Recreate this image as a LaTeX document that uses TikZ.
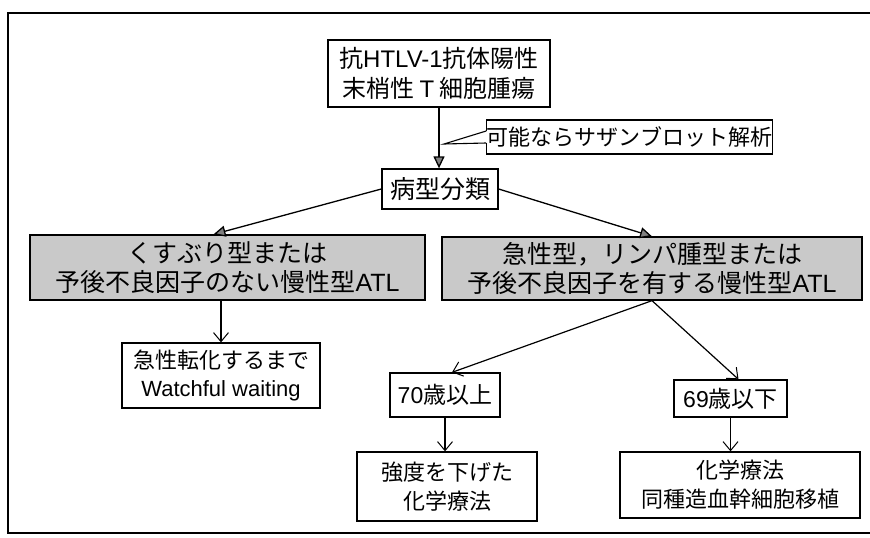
\documentclass[tikz,border=0pt]{standalone}
\usepackage{fontspec}
\setmainfont{Noto Sans CJK JP}
\newfontfamily\lat{Liberation Sans}
\usetikzlibrary{arrows.meta}
\begin{document}
\begin{tikzpicture}[x=1pt,y=-1pt,
 box/.style={draw,line width=1.3pt,inner sep=0pt,align=center,font=\fontsize{23}{29}\selectfont},
 shadebox/.style={box,fill=black!21},
 filledarrow/.style={-{Triangle[length=12pt,width=11pt,fill=black!50]}, line width=1.3pt},
 openarrow/.style={-{Straight Barb[length=9pt,width=15pt,line width=1pt]}, line width=1.2pt}]
\useasboundingbox (0,0) rectangle (870,538);
\clip (0,0) rectangle (870,538);
\draw[line width=1.2pt] (8,13) rectangle (900,533);

\node[box, minimum width=222pt, minimum height=67pt, font=\fontsize{24}{30}\selectfont] (top) at (439,73.5) {抗{\lat HTLV-1}抗体陽性\\末梢性 {\lat T} 細胞腫瘍};
\node[box, minimum width=285pt, minimum height=34pt, font=\fontsize{22}{26}\selectfont] (callout) at (629.5,137) {可能ならサザンブロット解析};
\node[box, minimum width=116pt, minimum height=40pt, font=\fontsize{25}{28}\selectfont] (bunrui) at (440,189) {病型分類};
\node[shadebox, minimum width=395pt, minimum height=65pt, font=\fontsize{25}{29}\selectfont] (lshade) at (227.5,267.5) {くすぶり型または\\予後不良因子のない慢性型{\lat ATL}};
\node[shadebox, minimum width=420pt, minimum height=63pt, font=\fontsize{25}{29}\selectfont] (rshade) at (652,268.5) {急性型，リンパ腫型または\\予後不良因子を有する慢性型{\lat ATL}};
\node[box, minimum width=198pt, minimum height=65pt, font=\fontsize{22}{28}\selectfont] (watch) at (221,375.5) {急性転化するまで\\{\lat Watchful waiting}};
\node[box, minimum width=110pt, minimum height=44pt, font=\fontsize{23}{26}\selectfont] (age70) at (445,395) {{\lat 70}歳以上};
\node[box, minimum width=113pt, minimum height=37pt, font=\fontsize{23}{26}\selectfont] (age69) at (730.5,398.5) {{\lat 69}歳以下};
\node[box, minimum width=180pt, minimum height=69pt, font=\fontsize{22}{29}\selectfont] (kyodo) at (447,486.5) {強度を下げた\\化学療法};
\node[box, minimum width=240pt, minimum height=66pt, font=\fontsize{22}{29}\selectfont] (kagaku) at (740,485) {化学療法\\同種造血幹細胞移植};

% callout tail
\coordinate (tip) at (444,144);
\coordinate (tu) at ([yshift=6pt]callout.west);
\coordinate (tl) at ([yshift=-6pt]callout.west);
\draw[white, line width=1.9pt] (tu) -- (tl);
\draw[line width=1.1pt] (tu) -- (tip) -- (tl);

% connectors
\draw[filledarrow] (top.south) -- (top.south |- bunrui.north);
\draw[filledarrow] (bunrui.west) -- ([xshift=-14pt]lshade.north);
\draw[filledarrow] (bunrui.east) -- (rshade.north);
\draw[openarrow] (watch.north |- lshade.south) -- (watch.north);
\draw[openarrow] (rshade.south) -- ([xshift=7pt]age70.north);
\draw[openarrow] (rshade.south) -- ([xshift=8pt]age69.north);
\draw[openarrow] (age70.south) -- (age70.south |- kyodo.north);
\draw[openarrow] (age69.south) -- (age69.south |- kagaku.north);
\end{tikzpicture}
\end{document}
